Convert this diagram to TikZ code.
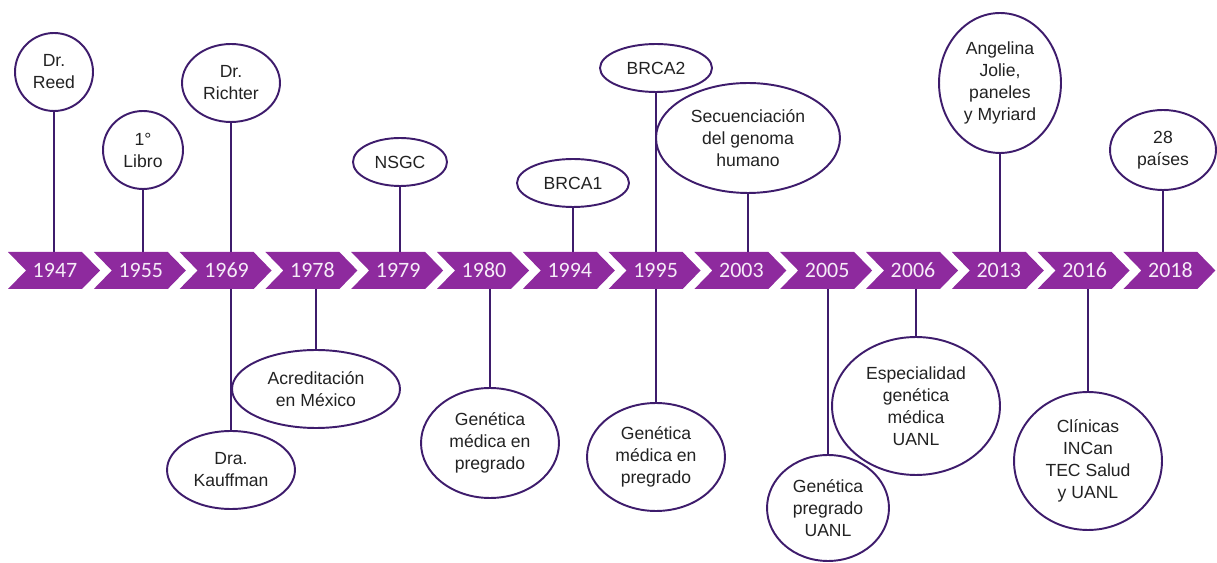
\documentclass[tikz,border=0pt]{standalone}
\usepackage{fontspec}
\setmainfont{Liberation Sans}
\newfontfamily\yearfont{Carlito}
\usetikzlibrary{shapes.geometric,backgrounds}
\definecolor{chev}{RGB}{142,42,158}
\definecolor{evline}{RGB}{62,28,108}
\definecolor{evtext}{RGB}{34,34,34}
\definecolor{yeartext}{RGB}{246,236,248}

\begin{document}
\begin{tikzpicture}[x=0.02cm,y=-0.02cm,
  chevron/.style={fill=chev},
  year/.style={text=yeartext,inner sep=0pt,font=\yearfont\fontsize{12.5}{14}\selectfont},
  ev/.style={ellipse,draw=evline,line width=1.1pt,fill=white,inner sep=0pt,align=center,
    text=evtext,font=\fontsize{10}{12.5}\selectfont},
  stem/.style={draw=evline,line width=1.1pt}]
\useasboundingbox (0,0) rectangle (1217,563);
\coordinate (bartop) at (0,252);
\coordinate (barbot) at (0,289);
%
% chevrons, left to right
\fill[chevron] (8,252) --++(74,0) --++(18,18.5) --++(-18,18.5) --++(-74,0) --++(18,-18.5) -- cycle;
\fill[chevron] (93.8,252) --++(74,0) --++(18,18.5) --++(-18,18.5) --++(-74,0) --++(18,-18.5) -- cycle;
\fill[chevron] (179.6,252) --++(74,0) --++(18,18.5) --++(-18,18.5) --++(-74,0) --++(18,-18.5) -- cycle;
\fill[chevron] (265.4,252) --++(74,0) --++(18,18.5) --++(-18,18.5) --++(-74,0) --++(18,-18.5) -- cycle;
\fill[chevron] (351.2,252) --++(74,0) --++(18,18.5) --++(-18,18.5) --++(-74,0) --++(18,-18.5) -- cycle;
\fill[chevron] (437,252) --++(74,0) --++(18,18.5) --++(-18,18.5) --++(-74,0) --++(18,-18.5) -- cycle;
\fill[chevron] (522.8,252) --++(74,0) --++(18,18.5) --++(-18,18.5) --++(-74,0) --++(18,-18.5) -- cycle;
\fill[chevron] (608.6,252) --++(74,0) --++(18,18.5) --++(-18,18.5) --++(-74,0) --++(18,-18.5) -- cycle;
\fill[chevron] (694.4,252) --++(74,0) --++(18,18.5) --++(-18,18.5) --++(-74,0) --++(18,-18.5) -- cycle;
\fill[chevron] (780.2,252) --++(74,0) --++(18,18.5) --++(-18,18.5) --++(-74,0) --++(18,-18.5) -- cycle;
\fill[chevron] (866,252) --++(74,0) --++(18,18.5) --++(-18,18.5) --++(-74,0) --++(18,-18.5) -- cycle;
\fill[chevron] (951.8,252) --++(74,0) --++(18,18.5) --++(-18,18.5) --++(-74,0) --++(18,-18.5) -- cycle;
\fill[chevron] (1037.6,252) --++(74,0) --++(18,18.5) --++(-18,18.5) --++(-74,0) --++(18,-18.5) -- cycle;
\fill[chevron] (1123.4,252) --++(74,0) --++(18,18.5) --++(-18,18.5) --++(-74,0) --++(18,-18.5) -- cycle;
%
\node[year] (y1947) at (55,270.5) {1947};
\node[year] (y1955) at (140.8,270.5) {1955};
\node[year] (y1969) at (226.6,270.5) {1969};
\node[year] (y1978) at (312.4,270.5) {1978};
\node[year] (y1979) at (398.2,270.5) {1979};
\node[year] (y1980) at (484,270.5) {1980};
\node[year] (y1994) at (569.8,270.5) {1994};
\node[year] (y1995) at (655.6,270.5) {1995};
\node[year] (y2003) at (741.4,270.5) {2003};
\node[year] (y2005) at (827.2,270.5) {2005};
\node[year] (y2006) at (913,270.5) {2006};
\node[year] (y2013) at (998.8,270.5) {2013};
\node[year] (y2016) at (1084.6,270.5) {2016};
\node[year] (y2018) at (1170.4,270.5) {2018};
%
% events above the bar
\node[ev,minimum width=1.56cm,minimum height=1.56cm] (reed) at (54,72) {Dr.\\Reed};
\node[ev,minimum width=1.6cm,minimum height=1.56cm] (libro) at (143,150) {1°\\Libro};
\node[ev,minimum width=1.96cm,minimum height=1.56cm] (richter) at (231,83) {Dr.\\Richter};
\node[ev,minimum width=1.88cm,minimum height=0.96cm] (nsgc) at (400,162) {NSGC};
\node[ev,minimum width=2.24cm,minimum height=0.96cm] (brca1) at (573,183) {BRCA1};
\node[ev,minimum width=2.24cm,minimum height=0.96cm] (brca2) at (656,68) {BRCA2};
\node[ev,minimum width=3.68cm,minimum height=2.2cm] (genoma) at (748,138) {Secuenciación\\del genoma\\humano};
\node[ev,minimum width=2.44cm,minimum height=2.8cm] (jolie) at (1000,83) {Angelina\\Jolie,\\paneles\\y Myriard};
\node[ev,minimum width=2.12cm,minimum height=1.6cm] (paises) at (1163,150) {28\\países};
%
% events below the bar
\node[ev,minimum width=2.56cm,minimum height=1.56cm] (kauffman) at (231,470) {Dra.\\Kauffman};
\node[ev,minimum width=3.36cm,minimum height=1.56cm] (acred) at (316,389) {Acreditación\\en México};
\node[ev,minimum width=2.76cm,minimum height=2.2cm] (preg80) at (490,443) {Genética\\médica en\\pregrado};
\node[ev,minimum width=2.76cm,minimum height=2.16cm] (preg95) at (656,457) {Genética\\médica en\\pregrado};
\node[ev,minimum width=2.44cm,minimum height=2.12cm] (pregUANL) at (828,508) {Genética\\pregrado\\UANL};
\node[ev,minimum width=3.36cm,minimum height=2.76cm] (espec) at (916,406) {Especialidad\\genética\\médica\\UANL};
\node[ev,minimum width=2.96cm,minimum height=2.76cm] (clinicas) at (1088,461) {Clínicas\\INCan\\TEC Salud\\y UANL};
%
% stems
\begin{scope}[on background layer]
\draw[stem] (reed.south) -- (reed.south |- bartop);
\draw[stem] (libro.south) -- (libro.south |- bartop);
\draw[stem] (richter.south) -- (richter.south |- bartop);
\draw[stem] (nsgc.south) -- (nsgc.south |- bartop);
\draw[stem] (brca1.south) -- (brca1.south |- bartop);
\draw[stem] (brca2.south) -- (brca2.south |- bartop);
\draw[stem] (genoma.south) -- (genoma.south |- bartop);
\draw[stem] (jolie.south) -- (jolie.south |- bartop);
\draw[stem] (paises.south) -- (paises.south |- bartop);
%
\draw[stem] (kauffman.north) -- (kauffman.north |- barbot);
\draw[stem] (acred.north) -- (acred.north |- barbot);
\draw[stem] (preg80.north) -- (preg80.north |- barbot);
\draw[stem] (preg95.north) -- (preg95.north |- barbot);
\draw[stem] (pregUANL.north) -- (pregUANL.north |- barbot);
\draw[stem] (espec.north) -- (espec.north |- barbot);
\draw[stem] (clinicas.north) -- (clinicas.north |- barbot);
\end{scope}
\end{tikzpicture}
\end{document}
